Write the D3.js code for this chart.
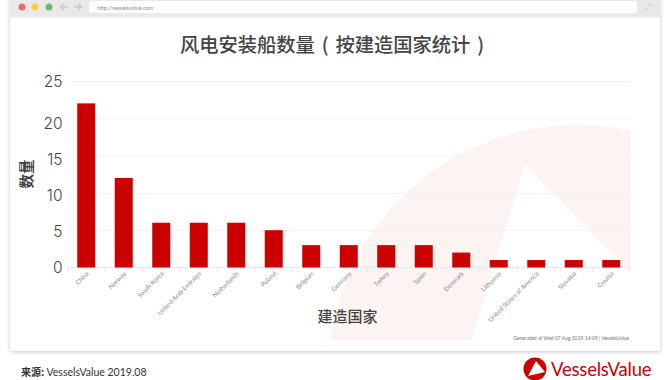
<!DOCTYPE html>
<html>
<head>
<meta charset="utf-8">
<script src="https://d3js.org/d3.v7.min.js"></script>
<style>
html, body { margin: 0; padding: 0; background: #fff; overflow: hidden; }
svg { display: block; }
text { font-family: Lato, "Noto Sans", sans-serif; }
.cjk { font-family: "Noto Sans CJK SC", sans-serif; }
</style>
</head>
<body>
<div id="chart"></div>
<script>
const countries = ["China", "Norway", "South Korea", "United Arab Emirates", "Netherlands", "Poland", "Belgium", "Germany", "Turkey", "Spain", "Denmark", "Lithuania", "United States of America", "Slovakia", "Croatia"];
const vesselCounts = [22, 12, 6, 6, 6, 5, 3, 3, 3, 3, 2, 1, 1, 1, 1];
const yTicks = [0, 5, 10, 15, 20, 25];

const svg = d3.select("#chart").append("svg")
    .attr("width", 670)
    .attr("height", 380);

const defs = svg.append("defs");
const shadow = defs.append("filter").attr("id", "card-shadow")
    .attr("x", "-5%").attr("y", "-5%").attr("width", "110%").attr("height", "110%");
shadow.append("feDropShadow")
    .attr("dx", 0).attr("dy", 1).attr("stdDeviation", 2)
    .attr("flood-color", "#000").attr("flood-opacity", 0.22);
defs.append("clipPath").attr("id", "plot-clip")
    .append("rect").attr("x", 300).attr("y", 100).attr("width", 331).attr("height", 240);

// browser window frame
svg.append("rect").attr("x", 10).attr("y", -6).attr("width", 650).attr("height", 357)
    .attr("rx", 3).attr("fill", "#fff").attr("filter", "url(#card-shadow)");
svg.append("rect").attr("x", 10).attr("y", 0).attr("width", 650).attr("height", 17.5).attr("fill", "#e9e9e9");
[[22, "#ee6a6f"], [35, "#f8d03c"], [49, "#6dbb6a"]].forEach(([cx, fill]) => {
    svg.append("circle").attr("cx", cx).attr("cy", 7).attr("r", 3.5).attr("fill", fill);
});
svg.append("path").attr("d", "M64 3.5L60.5 7L64 10.5M60.5 7H68M78 3.5L81.5 7L78 10.5M81.5 7H74")
    .attr("fill", "none").attr("stroke", "#c9c9c9").attr("stroke-width", 1.4);
svg.append("rect").attr("x", 89).attr("y", 1).attr("width", 548).attr("height", 12).attr("rx", 2).attr("fill", "#fff");
svg.append("text").attr("x", 97).attr("y", 9.5).attr("font-size", 5.5).attr("fill", "#8a8a8a").text("http://vesselsvalue.com");
svg.append("path").attr("d", "M645 10L651 4M648.5 4H651V6.5M645 7.5V10H647.5")
    .attr("fill", "none").attr("stroke", "#cfcfcf").attr("stroke-width", 0.8);

// watermark
const mark = svg.append("g").attr("clip-path", "url(#plot-clip)");
mark.append("circle").attr("cx", 577).attr("cy", 374).attr("r", 249).attr("fill", "#fcf3f3");
mark.append("path").attr("d", "M525 164L470 345H680Z").attr("fill", "#fff");
mark.append("path").attr("d", "M525 164L640 283V345H600Z").attr("fill", "#fff");

const x = d3.scaleBand()
    .domain(countries)
    .range([67.5, 630])
    .paddingInner(0.52)
    .paddingOuter(0.26);

const y = d3.scaleLinear()
    .domain([0, 25])
    .range([267.5, 81]);

// y axis with grid lines
const yAxis = svg.append("g")
    .attr("transform", "translate(67.5,0)")
    .call(d3.axisLeft(y).tickValues(yTicks).tickSize(-562.5).tickPadding(5));
yAxis.select(".domain").remove();
yAxis.selectAll("line").attr("stroke", "#f2f2f2");
// the labels sit a little below their grid lines in the original, not evenly
const labelNudge = { 0: 0, 5: 1, 10: 3, 15: 4, 20: 5, 25: 1 };
yAxis.selectAll("text")
    .style("font-family", "Inter, sans-serif")
    .style("font-weight", 300)
    .attr("font-size", 15.5)
    .attr("fill", "#444")
    .attr("y", d => labelNudge[d]);

// x axis base and ticks on the band edges
const step = x.step();
const edges = countries.map(d => x(d) + x.bandwidth() / 2 - step / 2).concat([630]);
svg.append("line").attr("x1", 67.5).attr("x2", 630).attr("y1", 267.5).attr("y2", 267.5).attr("stroke", "#e8ebf3");
svg.selectAll(".edge")
    .data(edges)
    .enter().append("line")
    .attr("class", "edge")
    .attr("x1", d => d).attr("x2", d => d)
    .attr("y1", 267.5).attr("y2", 272)
    .attr("stroke", "#e4e8f1");

svg.selectAll(".bar")
    .data(countries)
    .enter().append("rect")
    .attr("class", "bar")
    .attr("x", d => x(d))
    .attr("y", (d, i) => y(vesselCounts[i]))
    .attr("width", x.bandwidth())
    .attr("height", (d, i) => y(0) - y(vesselCounts[i]))
    .attr("fill", "#cc0000");

svg.selectAll(".country")
    .data(countries)
    .enter().append("text")
    .attr("class", "country")
    .attr("text-anchor", "end")
    .attr("font-size", 6.3)
    .attr("fill", "#8c8c8c")
    .attr("transform", d => `translate(${x(d) + x.bandwidth() / 2 + 3},${274}) rotate(-45)`)
    .text(d => d);

// titles
svg.append("text").attr("class", "cjk")
    .attr("x", 332).attr("y", 52)
    .attr("text-anchor", "middle")
    .attr("font-size", 19.3)
    .attr("font-weight", 500)
    .attr("fill", "#444")
    .style("word-spacing", "2.5px")
    .text("风电安装船数量 ( 按建造国家统计 )");

svg.append("text").attr("class", "cjk")
    .attr("transform", "translate(32,174) rotate(-90)")
    .attr("text-anchor", "middle")
    .attr("font-size", 14.5)
    .attr("font-weight", 700)
    .attr("fill", "#444")
    .text("数量");

svg.append("text").attr("class", "cjk")
    .attr("x", 347.5).attr("y", 322)
    .attr("text-anchor", "middle")
    .attr("font-size", 15)
    .attr("font-weight", 500)
    .attr("fill", "#444")
    .text("建造国家");

svg.append("text")
    .attr("x", 629).attr("y", 340)
    .attr("text-anchor", "end")
    .attr("font-size", 5)
    .attr("fill", "#777")
    .text("Generated at Wed 07 Aug 2019 14:09 | VesselsValue");

// footer
svg.append("text").attr("class", "cjk")
    .attr("x", 21).attr("y", 376)
    .attr("font-size", 10)
    .attr("font-weight", 700)
    .attr("fill", "#333")
    .text("来源:");
svg.append("text")
    .attr("x", 46.5).attr("y", 376)
    .attr("font-size", 10.5)
    .attr("fill", "#333")
    .text("VesselsValue 2019.08");

// logo
svg.append("circle").attr("cx", 535).attr("cy", 369).attr("r", 11.5).attr("fill", "#cc0000");
svg.append("path").attr("d", "M536 361L545 372L528 376Z").attr("fill", "#fff");
svg.append("text")
    .attr("x", 551).attr("y", 376)
    .attr("font-size", 18.5)
    .attr("fill", "#cc0000")
    .style("letter-spacing", "-0.2px")
    .text("VesselsValue");
</script>
</body>
</html>
